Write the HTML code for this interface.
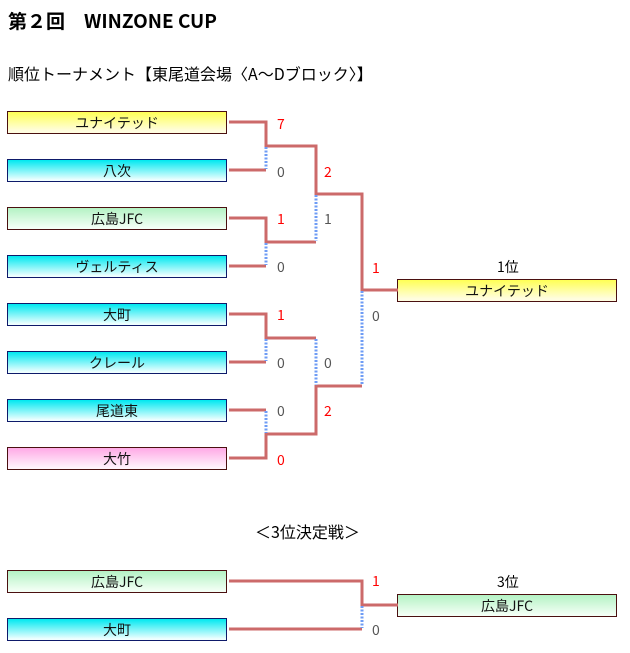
<!DOCTYPE html>
<html><head><meta charset="utf-8"><style>
body{margin:0;width:630px;height:653px;background:#fff;position:relative;font-family:"Noto Sans CJK JP","Liberation Sans",sans-serif;overflow:hidden}
.t{position:absolute;white-space:nowrap}
.b{position:absolute;width:218px;height:21px;border:1px solid #4a1010;text-align:center;font-size:14px;line-height:23px;color:#111}
.y{background:linear-gradient(#ffff55,#fffde0 90%)}
.c{background:linear-gradient(#00e8f0,#f0ffff 95%);border-color:#0e1a6a}
.g{background:linear-gradient(#b4f2c4,#f4fff6 95%)}
.p{background:linear-gradient(#ffaae6,#fff4fc 95%)}
.s{position:absolute;font-size:14px;line-height:16px;color:#555;transform:translateY(-50%)}
.r{color:#f00}
</style></head><body>
<div class="t" style="left:8px;top:7px;font-size:19px;line-height:28px;font-weight:bold">第２回　WINZONE CUP</div>
<div class="t" style="left:8px;top:60px;font-size:16px;line-height:26px">順位トーナメント【東尾道会場〈A～Dブロック〉】</div>

<div class="b y" style="left:7px;top:111px">ユナイテッド</div>
<div class="b c" style="left:7px;top:159px">八次</div>
<div class="b g" style="left:7px;top:207px">広島JFC</div>
<div class="b c" style="left:7px;top:255px">ヴェルティス</div>
<div class="b c" style="left:7px;top:303px">大町</div>
<div class="b c" style="left:7px;top:351px">クレール</div>
<div class="b c" style="left:7px;top:399px">尾道東</div>
<div class="b p" style="left:7px;top:447px">大竹</div>
<div class="b y" style="left:397px;top:279px">ユナイテッド</div>
<div class="t" style="left:497px;top:257px;font-size:14px;line-height:20px">1位</div>

<div class="t" style="left:255px;top:518px;font-size:16px;line-height:26px">＜3位決定戦＞</div>
<div class="b g" style="left:7px;top:570px">広島JFC</div>
<div class="b c" style="left:7px;top:618px">大町</div>
<div class="b g" style="left:397px;top:594px">広島JFC</div>
<div class="t" style="left:497px;top:572px;font-size:14px;line-height:20px">3位</div>

<svg width="630" height="653" style="position:absolute;left:0;top:0" fill="none">
<g stroke="#cc6a6a" stroke-width="3">
<path d="M229 122H266V146H316V194H362V290H398"/>
<path d="M229 170H266"/>
<path d="M229 218H266V242H316"/>
<path d="M229 266H266"/>
<path d="M229 314H266V338H316"/>
<path d="M229 362H266"/>
<path d="M229 410H266"/>
<path d="M229 458H266V434H316V386H362"/>
<path d="M229 581H362V605H398"/>
<path d="M229 629H362"/>
</g>
<g stroke="#6f9cf5" stroke-width="3" stroke-dasharray="2 1.5">
<path d="M266 147V169"/><path d="M266 243V265"/><path d="M266 339V361"/><path d="M266 411V433"/>
<path d="M316 195V241"/><path d="M316 339V385"/>
<path d="M362 291V385"/><path d="M362 606V628"/>
</g>
</svg>
<div class="s r" style="left:277px;top:124px">7</div>
<div class="s" style="left:277px;top:172px">0</div>
<div class="s r" style="left:324px;top:172px">2</div>
<div class="s r" style="left:277px;top:219px">1</div>
<div class="s" style="left:324px;top:219px">1</div>
<div class="s" style="left:277px;top:267px">0</div>
<div class="s r" style="left:372px;top:268px">1</div>
<div class="s" style="left:372px;top:316px">0</div>
<div class="s r" style="left:277px;top:315px">1</div>
<div class="s" style="left:277px;top:363px">0</div>
<div class="s" style="left:324px;top:363px">0</div>
<div class="s" style="left:277px;top:411px">0</div>
<div class="s r" style="left:324px;top:411px">2</div>
<div class="s r" style="left:277px;top:460px">0</div>
<div class="s r" style="left:372px;top:581px">1</div>
<div class="s" style="left:372px;top:630px">0</div>
</body></html>
